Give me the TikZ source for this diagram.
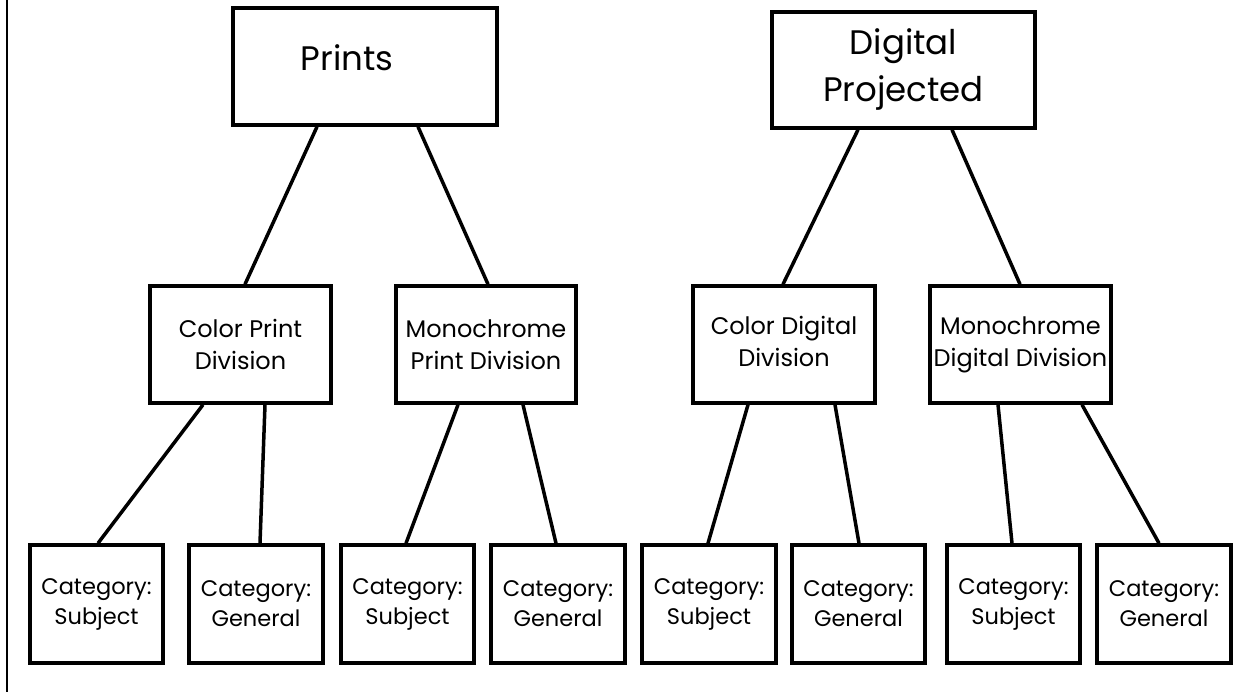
\documentclass[tikz,border=0pt]{standalone}
\usepackage{fontspec}
\setmainfont{Poppins}
\newcommand{\twolines}[2]{\raisebox{7pt}{\begin{tabular}{@{}c@{}}#1\\#2\end{tabular}}}
\begin{document}
\begin{tikzpicture}[x=1pt,y=-1pt,
  box/.style={draw=black,line width=3.5pt,fill=white,inner sep=0pt},
  conn/.style={draw=black,line width=3.5pt},
  bigtext/.style={font=\fontsize{34}{40}\selectfont,inner sep=0pt},
  midtext/.style={font=\fontsize{24}{32}\selectfont,align=center},
  smalltext/.style={font=\fontsize{22.5}{30}\selectfont,align=center}]
\useasboundingbox (0,0) rectangle (1243,692);
% left rule
\draw[line width=2.5pt] (7,0) -- (7,692);
% top level
\node[box,minimum width=264pt,minimum height=117pt] (prints) at (365,66.5) {};
\node[bigtext] (printstext) at (347,58) {Prints};
\node[box,minimum width=263pt,minimum height=116pt,bigtext,align=center] (digital) at (903.5,70) {\raisebox{2pt}{\begin{tabular}{@{}c@{}}Digital\\[7pt]Projected\end{tabular}}};
% middle level
\node[box,minimum width=181pt,minimum height=117pt,midtext] (cpd) at (240.5,344.5) {Color Print\\Division};
\node[box,minimum width=180pt,minimum height=117pt,midtext] (mpd) at (486,344.5) {Monochrome\\Print Division};
\node[box,minimum width=182pt,minimum height=117pt,midtext] (cdd) at (784,344.5) {\twolines{Color Digital}{Division}};
\node[box,minimum width=181pt,minimum height=117pt,midtext] (mdd) at (1020.5,344.5) {\twolines{Monochrome}{Digital Division}};
% bottom level
\foreach \n/\xa/\xb/\t in {b1/30/163/Subject, b2/189/323/General, b3/341/474/Subject, b4/491/625/General, b5/642/776/Subject, b6/792/925/General, b7/947/1080/Subject, b8/1097/1231/General}{
  \pgfmathsetmacro{\cx}{(\xa+\xb)/2}
  \pgfmathsetmacro{\w}{\xb-\xa}
  \node[box,minimum width=\w pt,minimum height=118pt,smalltext] (\n) at (\cx,604) {Category:\\\t};
}
% connectors
\draw[conn] ([xshift=-48pt]prints.south) -- ([xshift=4.5pt]cpd.north);
\draw[conn] ([xshift=53pt]prints.south) -- ([xshift=2pt]mpd.north);
\draw[conn] ([xshift=-45.5pt]digital.south) -- ([xshift=-1pt]cdd.north);
\draw[conn] ([xshift=48.5pt]digital.south) -- ([xshift=-0.5pt]mdd.north);
\draw[conn] ([xshift=-37.5pt]cpd.south) -- ([xshift=1.5pt]b1.north);
\draw[conn] ([xshift=24.5pt]cpd.south) -- ([xshift=4pt]b2.north);
\draw[conn] ([xshift=-28pt]mpd.south) -- ([xshift=-1.5pt]b3.north);
\draw[conn] ([xshift=37pt]mpd.south) -- ([xshift=-2pt]b4.north);
\draw[conn] ([xshift=-36pt]cdd.south) -- ([xshift=-1pt]b5.north);
\draw[conn] ([xshift=51pt]cdd.south) -- ([xshift=0.5pt]b6.north);
\draw[conn] ([xshift=-22.5pt]mdd.south) -- ([xshift=-1.5pt]b7.north);
\draw[conn] ([xshift=61.5pt]mdd.south) -- ([xshift=-5pt]b8.north);
\end{tikzpicture}
\end{document}
